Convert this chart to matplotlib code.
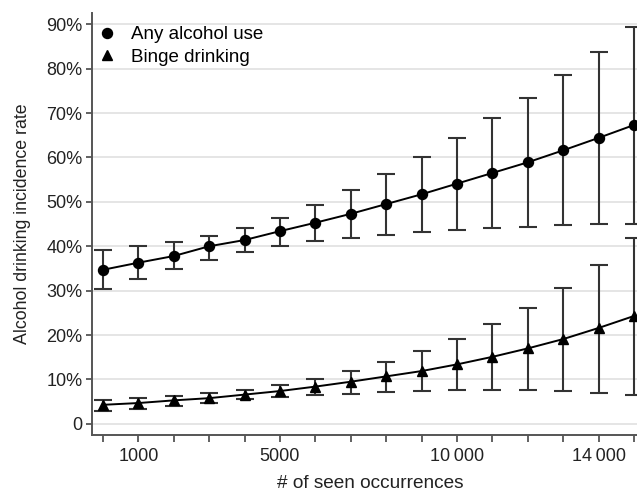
import matplotlib.pyplot as plt

plt.rcParams['font.family'] = ['Liberation Sans', 'DejaVu Sans']

seen = [0, 1000, 2000, 3000, 4000, 5000, 6000, 7000, 8000, 9000,
        10000, 11000, 12000, 13000, 14000, 15000]

any_rate = [34.7, 36.3, 37.8, 40.0, 41.4, 43.4, 45.3, 47.3, 49.5, 51.7,
            54.1, 56.5, 58.9, 61.6, 64.4, 67.3]
any_lo = [30.3, 32.6, 34.8, 36.9, 38.8, 40.0, 41.2, 41.9, 42.5, 43.2,
          43.6, 44.1, 44.4, 44.7, 44.9, 45.0]
any_hi = [39.2, 40.0, 41.0, 42.2, 44.0, 46.4, 49.3, 52.6, 56.3, 60.2,
          64.3, 68.8, 73.4, 78.5, 83.8, 89.4]

binge_rate = [4.3, 4.7, 5.3, 5.8, 6.6, 7.4, 8.4, 9.5, 10.7, 11.9,
              13.4, 15.1, 17.0, 19.1, 21.6, 24.3]
binge_lo = [2.9, 3.4, 4.1, 4.8, 5.5, 6.1, 6.5, 6.8, 7.2, 7.4,
            7.7, 7.7, 7.7, 7.4, 7.0, 6.4]
binge_hi = [5.4, 5.8, 6.3, 6.9, 7.7, 8.8, 10.1, 11.9, 13.9, 16.4,
            19.1, 22.4, 26.1, 30.6, 35.7, 41.8]

xtick_labels = {1000: '1000', 5000: '5000', 10000: '10\u2009000', 14000: '14\u2009000'}
ytick_vals = [0, 10, 20, 30, 40, 50, 60, 70, 80, 90]
ytick_labels = ['0'] + ['%d%%' % v for v in ytick_vals[1:]]

fig = plt.figure(figsize=(6.37, 4.94), dpi=100)
ax = fig.add_axes([0.1444, 0.1194, 0.8556, 0.855])

def draw(y, lo, hi, marker, label, ms):
    yerr = [[a - b for a, b in zip(y, lo)], [b - a for a, b in zip(y, hi)]]
    ax.errorbar(seen, y, yerr=yerr, fmt='none', ecolor='#333333',
                elinewidth=1.5, capsize=6.5, capthick=1.5, zorder=2)
    ax.plot(seen, y, color='black', lw=1.4, zorder=3)
    ax.plot(seen, y, linestyle='none', marker=marker, ms=ms, color='black',
            label=label, zorder=4)

draw(any_rate, any_lo, any_hi, 'o', 'Any alcohol use', 7.2)
draw(binge_rate, binge_lo, binge_hi, '^', 'Binge drinking', 7.8)

ax.set_xlim(-310, 15085)
ax.set_ylim(-2.5, 92.6)
ax.set_xticks(seen)
ax.set_xticklabels([xtick_labels.get(s, '') for s in seen])
ax.set_yticks(ytick_vals)
ax.set_yticklabels(ytick_labels)
ax.yaxis.grid(True, color='#e3e3e3', lw=1.3)
ax.set_axisbelow(True)

for side in ['top', 'right']:
    ax.spines[side].set_visible(False)
for side in ['left', 'bottom']:
    ax.spines[side].set_color('#555555')
    ax.spines[side].set_linewidth(1.4)
ax.tick_params(axis='both', width=1.3, color='#555555',
               labelsize=13, labelcolor='#222222')
ax.tick_params(axis='y', length=4.5, pad=2.5)
ax.tick_params(axis='x', length=5, pad=4.5)

ax.set_xlabel('# of seen occurrences', fontsize=13.7, color='#222222', labelpad=7)
ax.xaxis.label.set_x(0.51)
ax.set_ylabel('Alcohol drinking incidence rate', fontsize=12.8, color='#222222', labelpad=11)

ax.legend(loc='upper left', frameon=False, fontsize=13.5, handletextpad=0.8,
          borderaxespad=0.2, labelspacing=0.3, handlelength=1.0,
          bbox_to_anchor=(-0.011, 0.995))

fig.savefig('out.png', dpi=100)
